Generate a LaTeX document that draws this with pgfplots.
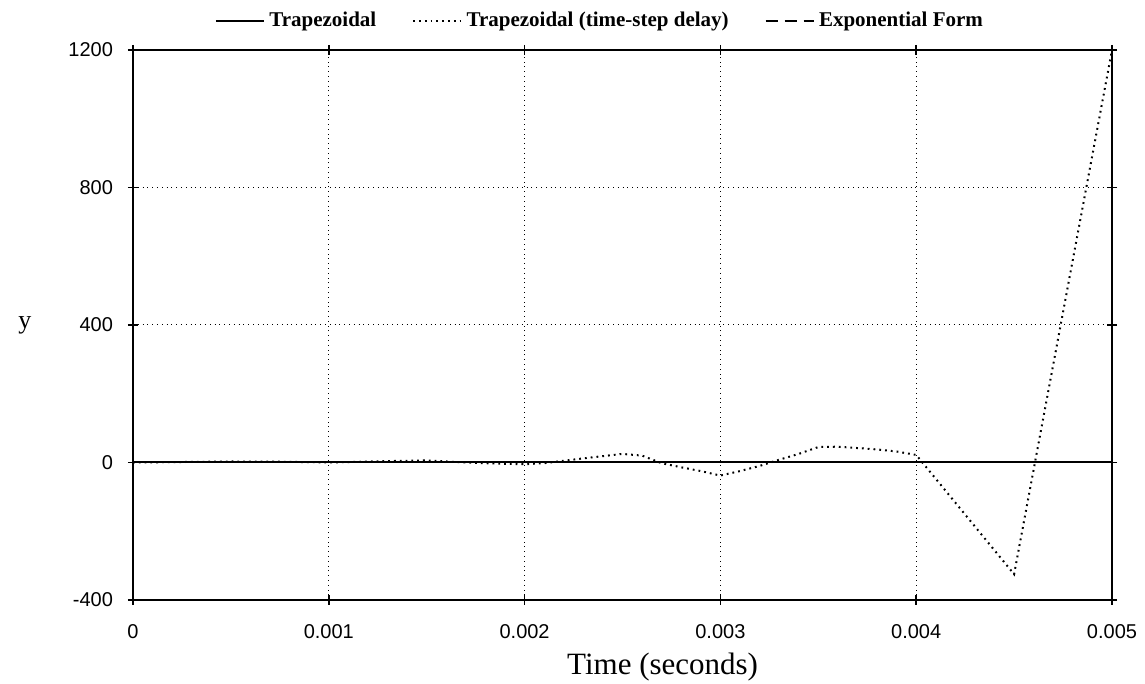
\documentclass[border=0pt]{standalone}
\usepackage{fontspec}
\setmainfont{Liberation Serif}
\setsansfont{Liberation Sans}
\usepackage{pgfplots}
\pgfplotsset{compat=1.18}
\begin{document}
\begin{tikzpicture}
\path[use as bounding box] (-66.5pt,-42pt) rectangle (506pt,300pt);
\begin{axis}[
  at={(0,0)}, anchor=south west,
  scale only axis, width=489.5pt, height=275pt,
  xmin=0, xmax=0.005, ymin=-400, ymax=1200,
  scaled x ticks=false,
  xtick={0,0.001,0.002,0.003,0.004,0.005},
  xticklabels={0,0.001,0.002,0.003,0.004,0.005},
  ytick={-400,0,400,800,1200},
  yticklabels={-400,0,400,800,1200},
  axis line style={line width=1.4pt},
  tick style={black, line width=0.8pt},
  major tick length=5pt,
  tick align=center,
  xmajorgrids, ymajorgrids,
  grid style={black, dotted, line width=0.5pt},
  ticklabel style={font=\sffamily\fontsize{10}{12}\selectfont},
  xticklabel style={yshift=-6pt},
  yticklabel style={xshift=-4pt},
  xlabel={Time (seconds)},
  xlabel style={font=\fontsize{15.5}{18}\selectfont, at={(rel axis cs:0.541,0)}, anchor=center, yshift=-33.5pt},
  ylabel={y},
  ylabel style={font=\fontsize{13}{15}\selectfont, at={(rel axis cs:0,0.5)}, anchor=center, rotate=-90, xshift=-54pt},
  legend columns=3,
  legend style={draw=none, fill=none, at={(rel axis cs:0.478,1)}, anchor=south, yshift=6pt,
    font=\bfseries\fontsize{10.5}{12.5}\selectfont,
    /tikz/every even column/.append style={column sep=16pt}},
  legend image code/.code={\draw[#1] (0cm,0cm) -- (0.85cm,0cm);},
  clip=false,
]
\addplot[black, line width=1pt] coordinates {(0,0) (0.005,0)};
\addlegendentry{Trapezoidal}
\addplot[black, dash pattern=on 0.9pt off 2pt, line width=1pt] coordinates {
(0,0) (0.0002,1) (0.0005,3) (0.0008,2) (0.001,0) (0.0013,4) (0.0015,6) (0.0017,0)
(0.0019,-4) (0.002,-5) (0.0021,-2) (0.0023,12) (0.0025,25) (0.0026,20) (0.0027,-2)
(0.0028,-14) (0.0029,-25) (0.003,-38) (0.0031,-25) (0.0032,-10) (0.0033,8) (0.0034,25)
(0.0035,45) (0.0036,46) (0.0037,42) (0.0038,38) (0.0039,32) (0.004,22)
(0.0045,-325) (0.005,1200)};
\addlegendentry{Trapezoidal (time-step delay)}
\addplot[black, dash pattern=on 6pt off 3.5pt, line width=1pt] coordinates {(0,0) (0.005,0)};
\addlegendentry{Exponential Form}
\end{axis}
\end{tikzpicture}
\end{document}
